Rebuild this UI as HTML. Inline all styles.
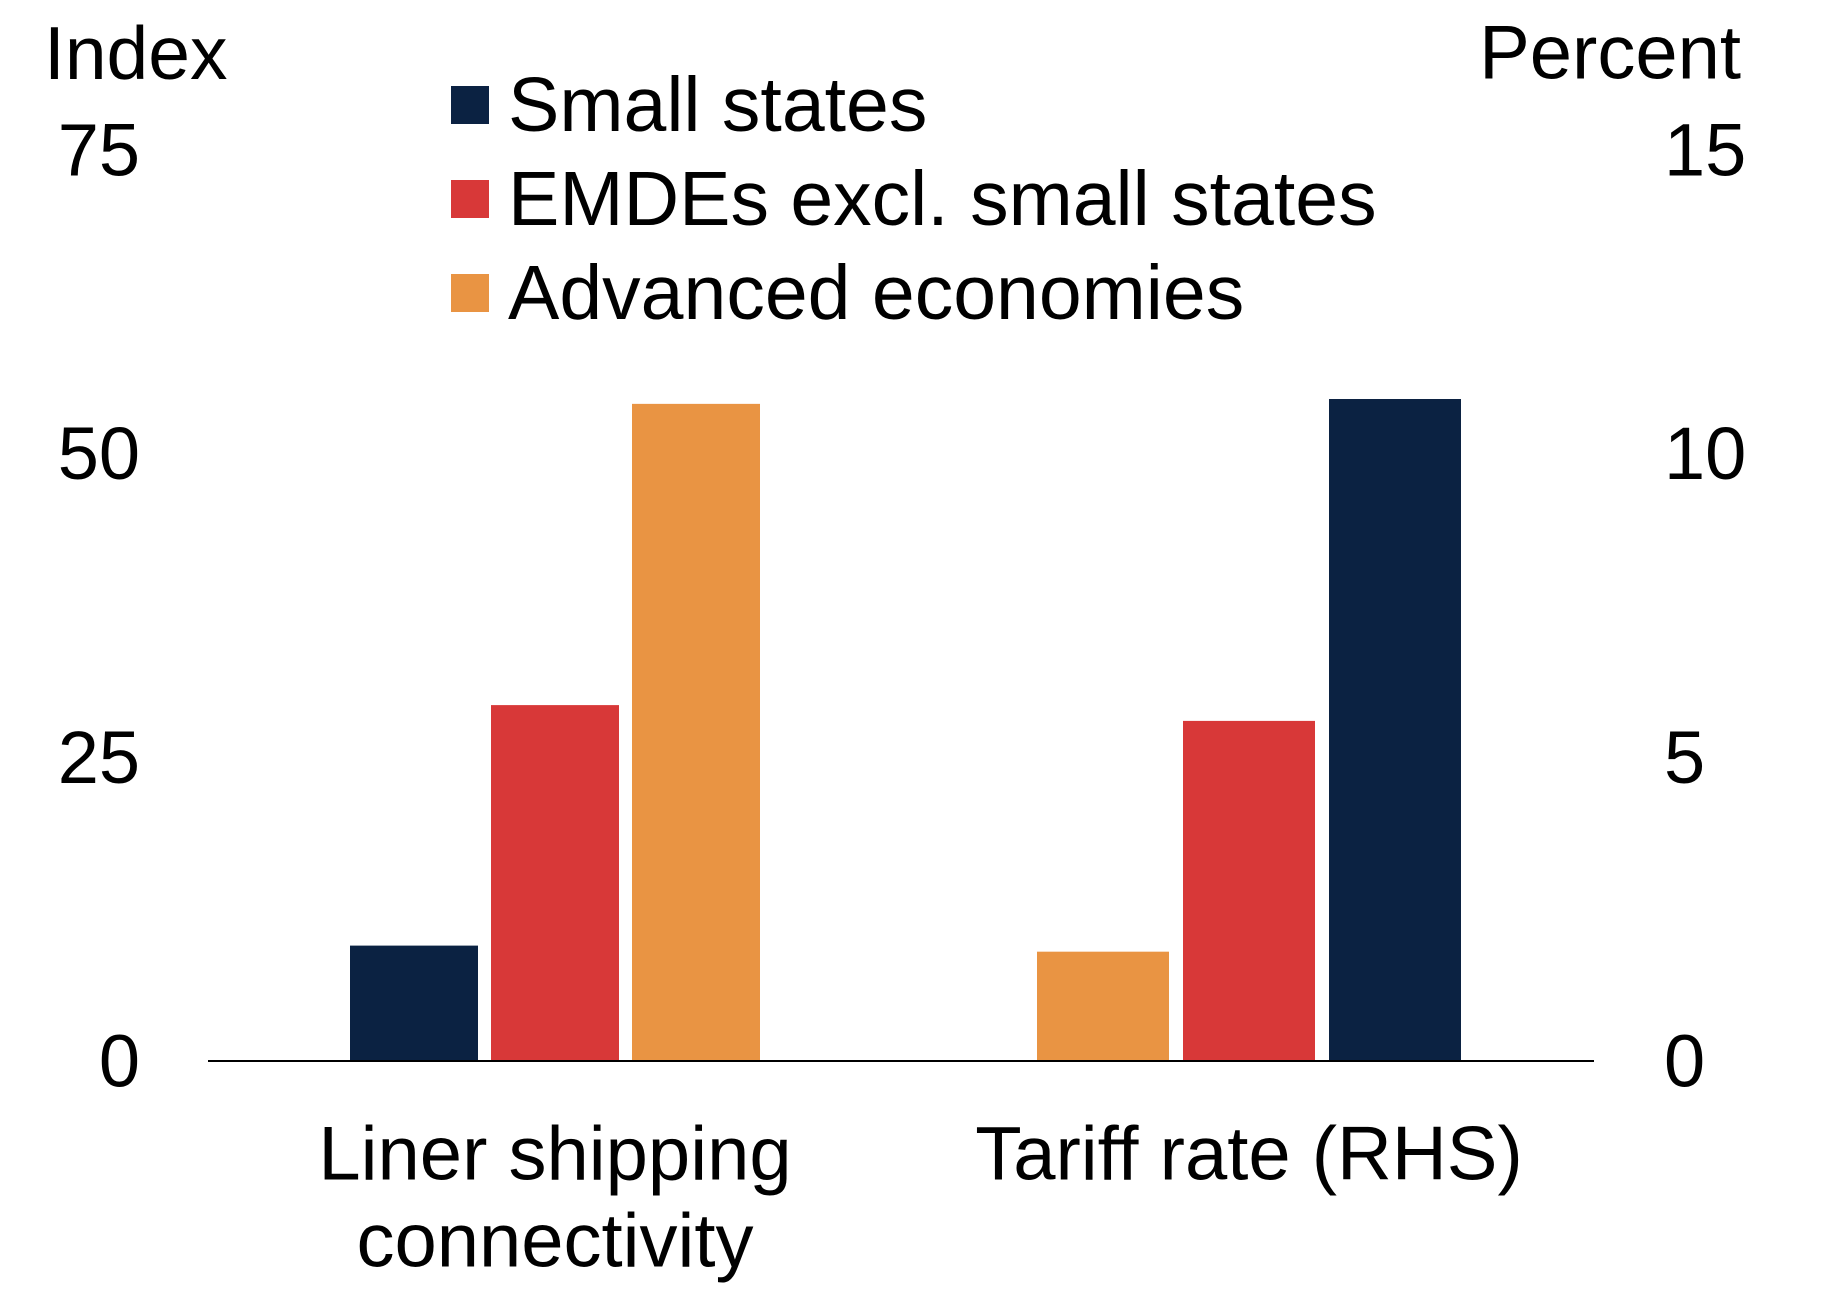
<!DOCTYPE html>
<html><head><meta charset="utf-8"><style>
body{margin:0;background:#fff}
svg text{font-family:"Liberation Sans",Arial,sans-serif;fill:#000}
</style></head><body>
<svg id="chart" width="1830" height="1298" xmlns="http://www.w3.org/2000/svg">
<text x="44" y="53" font-size="75" dominant-baseline="central">Index</text>
<text x="1741" y="53" font-size="76" text-anchor="end" dominant-baseline="central">Percent</text>
<g id="legend"></g>
<g id="ticks"></g>
<g id="bars"></g>
<line x1="208" x2="1594" y1="1061" y2="1061" stroke="#000" stroke-width="2"/>
<text x="555" y="1154" font-size="76" text-anchor="middle" dominant-baseline="central">Liner shipping</text>
<text x="555" y="1241" font-size="76" text-anchor="middle" dominant-baseline="central">connectivity</text>
<text x="1249" y="1154" font-size="76" text-anchor="middle" dominant-baseline="central">Tariff rate (RHS)</text>
</svg>
<script>
const seriesNames = ["Small states","EMDEs excl. small states","Advanced economies"];
const seriesColors = ["#0B2242","#D83838","#E99443"];
const linerValues = [9.5, 29.3, 54.1];      // left axis, index
const tariffValues = [10.9, 5.6, 1.8];      // right axis, percent
const leftTicks = [0,25,50,75];
const rightTicks = [0,5,10,15];
const svg = document.getElementById('chart');
const NS = "http://www.w3.org/2000/svg";
const y0 = 1061, yTop = 150;
const yLeft = v => y0 - v/75*(y0-yTop);
const yRight = v => y0 - v/15*(y0-yTop);
function mk(tag, attrs, parent){const e=document.createElementNS(NS,tag);for(const k in attrs)e.setAttribute(k,attrs[k]);parent.appendChild(e);return e;}
const tg=document.getElementById('ticks');
leftTicks.forEach(t=>{const e=mk('text',{x:140,y:yLeft(t),'font-size':74,'text-anchor':'end','dominant-baseline':'central'},tg);e.textContent=t;

});
rightTicks.forEach(t=>{const e=mk('text',{x:1664,y:yRight(t),'font-size':74,'text-anchor':'start','dominant-baseline':'central'},tg);e.textContent=t;

});
const bg=document.getElementById('bars');
const g1c=555, w1=128, gap1=13;
[0,1,2].forEach((s,i)=>{const x=g1c+(i-1)*(w1+gap1)-w1/2;const y=yLeft(linerValues[s]);
const r=mk('rect',{x:x,y:y,width:w1,height:y0-y,fill:seriesColors[s]},bg);

});
const g2c=1249, w2=132, gap2=14;
[2,1,0].forEach((s,i)=>{const x=g2c+(i-1)*(w2+gap2)-w2/2;const y=yRight(tariffValues[s]);
const r=mk('rect',{x:x,y:y,width:w2,height:y0-y,fill:seriesColors[s]},bg);

});
const lg=document.getElementById('legend');
seriesNames.forEach((n,i)=>{const cy=105+i*94;
const r=mk('rect',{x:451,y:cy-19,width:38,height:38,fill:seriesColors[i]},lg);


const t=mk('text',{x:508,y:cy,'font-size':77,'dominant-baseline':'central'},lg);t.textContent=n;

});
</script>
</body></html>
